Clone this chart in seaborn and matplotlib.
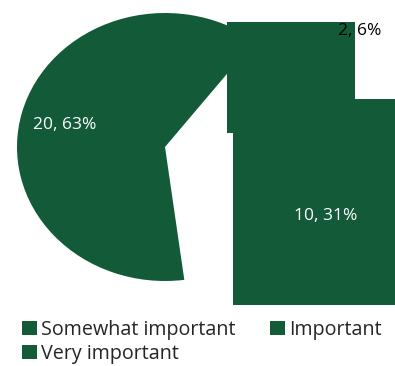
import matplotlib
matplotlib.use("Agg")
import matplotlib.pyplot as plt
import seaborn as sns
import numpy as np
from matplotlib.patches import Rectangle, Patch

sns.set_theme(style="white")
plt.rcParams['font.family'] = ['Open Sans', 'DejaVu Sans']

categories = ["Somewhat important", "Important", "Very important"]
values = [20, 10, 2]
color = "#135A38"

total = sum(values)
pcts = [int(100 * v / total + 0.5) for v in values]
labels = [f"{v}, {p}%" for v, p in zip(values, pcts)]

# styling: how the reference displaced / stretched the smaller slices
shifts = [(0.0, 0.0), (0.46, -0.188), (0.42, 0.104)]
stretch = [(1.0, 1.0), (1.15, 1.031), (1.0, 1.045)]
label_r = [0.70, 0.70, 1.19]
label_colors = ["white", "white", "black"]

fig = plt.figure(figsize=(3.95, 3.66), dpi=100)
ax = fig.add_axes([17 / 395, (366 - 281) / 366, 296 / 395, 268 / 366])

wedges, _ = ax.pie(values, colors=[color] * 3, startangle=52.5,
                   counterclock=True, wedgeprops=dict(linewidth=0))
ax.set_aspect('auto')
ax.set_xlim(-1, 1)
ax.set_ylim(-1, 1)
ax.axis('off')

for i, w in enumerate(wedges):
    dx, dy = shifts[i]
    mid = np.deg2rad((w.theta1 + w.theta2) / 2)
    if i > 0:
        ext = w.get_path().get_extents()
        w.set_visible(False)
        sx, sy = stretch[i]
        ax.add_patch(Rectangle((ext.x0 + dx, ext.y0 + dy),
                               ext.width * sx, ext.height * sy,
                               facecolor=color, edgecolor='none', clip_on=False))
    ax.text(dx + label_r[i] * np.cos(mid), dy + label_r[i] * np.sin(mid) - 0.02, labels[i],
            ha='center', va='center', color=label_colors[i], fontsize=12.5,
            clip_on=False, zorder=5)

order = [0, 2, 1]
handles = [Patch(facecolor=color, edgecolor='none') for _ in order]
fig.legend(handles, [categories[i] for i in order], ncol=2, loc='upper left',
           bbox_to_anchor=(22 / 395, 1 - 320 / 366), frameon=False,
           fontsize=14.2, handlelength=0.77, handleheight=0.72, handletextpad=0.2,
           columnspacing=1.75, labelspacing=0.18, borderaxespad=0, borderpad=0)

fig.savefig("out.png", dpi=100)
